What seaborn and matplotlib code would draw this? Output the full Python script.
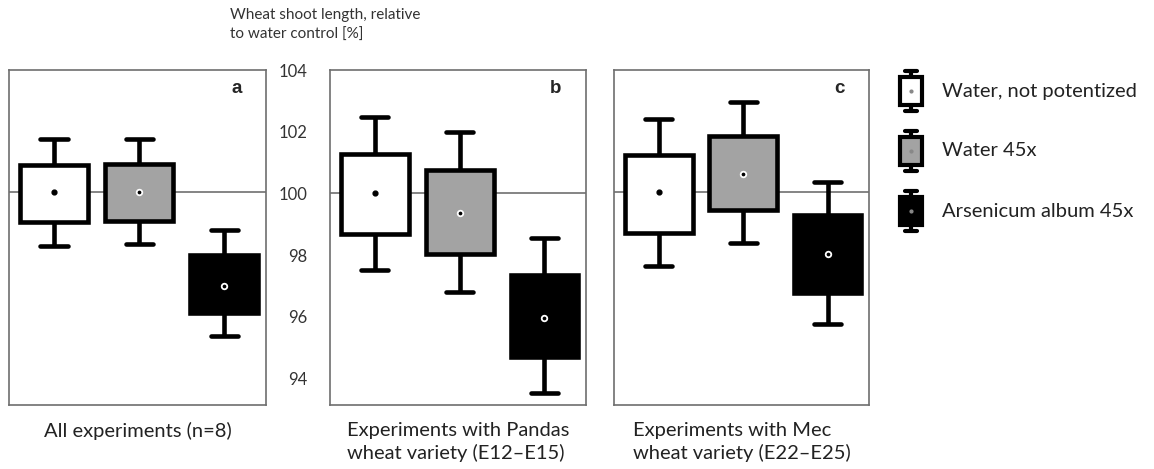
# Wheat shoot length relative to water control, three experiment groups
import numpy as np
import pandas as pd
import seaborn as sns
import matplotlib.pyplot as plt

groups = ["Water, not potentized", "Water 45x", "Arsenicum album 45x"]
colors = ["white", "#a3a3a3", "black"]

panel_letters = ["a", "b", "c"]
panel_labels = ["All experiments (n=8)",
                "Experiments with Pandas\nwheat variety (E12–E15)",
                "Experiments with Mec\nwheat variety (E22–E25)"]

# one row per panel, one value per group
means = [[100.0, 100.0, 96.99], [100.0, 99.35, 95.97], [100.0, 100.59, 98.01]]
box_lo = [[99.03, 99.08, 96.10], [98.67, 98.05, 94.68], [98.70, 99.43, 96.76]]
box_hi = [[100.88, 100.93, 97.98], [101.27, 100.75, 97.35], [101.21, 101.83, 99.27]]
whisk_lo = [[98.28, 98.32, 95.36], [97.53, 96.80, 93.52], [97.64, 98.38, 95.74]]
whisk_hi = [[101.71, 101.71, 98.78], [102.49, 101.99, 98.55], [102.37, 102.93, 100.34]]

# shape of the little legend icon (whisker, box, centre, box, whisker)
icon_shape = [0.0, 0.6, 2.0, 3.4, 4.0]

sns.set_style("white")
plt.rcParams["font.family"] = ["Lato", "DejaVu Sans"]

W, H = 1154, 469
fig = plt.figure(figsize=(W / 100, H / 100), dpi=100)

lefts = [9, 330, 614]
widths = [257, 256, 255]
top, bottom = 70, 405


def box_frame(k):
    rows = []
    for i, g in enumerate(groups):
        for v in (whisk_lo[k][i], box_lo[k][i], means[k][i], box_hi[k][i], whisk_hi[k][i]):
            rows.append({"group": g, "value": v})
    return pd.DataFrame(rows)


def shorten_caps(ax, factor):
    # seaborn draws caps at half the box width; the original ones are a bit shorter
    for ln in ax.lines:
        x, y = ln.get_xdata(), ln.get_ydata()
        if len(x) == 2 and y[0] == y[1] and x[0] != x[1]:
            c = (x[0] + x[1]) / 2
            ln.set_xdata([c + (x[0] - c) * factor, c + (x[1] - c) * factor])


for k in range(3):
    ax = fig.add_axes([lefts[k] / W, 1 - bottom / H, widths[k] / W, (bottom - top) / H])
    sns.boxplot(data=box_frame(k), x="group", y="value", hue="group",
                order=groups, hue_order=groups, palette=colors, saturation=1,
                whis=(0, 100), width=0.8, linewidth=3.3, linecolor="black",
                legend=False, ax=ax,
                medianprops={"visible": False},
                capprops={"solid_capstyle": "round"},
                whiskerprops={"solid_capstyle": "butt"})
    shorten_caps(ax, 0.8)
    ax.axhline(100, color="#707070", lw=1.2, zorder=0.5)
    pos = np.arange(len(groups))
    ax.scatter(pos[:1], means[k][:1], s=12, color="black", zorder=6)
    ax.scatter(pos[1:], means[k][1:], s=16, color="black", edgecolors="white",
               linewidths=1.3, zorder=6)

    ax.set_xlim(-0.53, 2.49)
    ax.set_ylim(93.14, 103.95)
    ax.set_xticks([])
    ax.set_ylabel("")
    ax.set_xlabel(panel_labels[k], fontsize=14.5, labelpad=12, linespacing=1.35,
                  multialignment="left", color="#222222")
    for s in ax.spines.values():
        s.set_color("#6e6e6e")
        s.set_linewidth(1.2)
    if k == 1:
        ax.set_yticks([94, 96, 98, 100, 102, 104])
        ax.tick_params(axis="y", length=0, pad=16, labelsize=12, labelcolor="#333333")
    else:
        ax.set_yticks([])
    ax.text(0.905, 0.97, panel_letters[k], transform=ax.transAxes, ha="right", va="top",
            fontsize=13.5, fontweight="bold", family="Liberation Sans")

fig.text(230 / W, 1 - 8 / H, "Wheat shoot length, relative\nto water control [%]",
         ha="left", va="top", fontsize=11, linespacing=1.5, color="#333333")

# legend: small boxplot icons plus labels
icon_y = [91, 151, 211]
for i, g in enumerate(groups):
    iax = fig.add_axes([896 / W, 1 - (icon_y[i] + 23) / H, 30 / W, 46 / H])
    sns.boxplot(y=icon_shape, color=colors[i], saturation=1, whis=(0, 100), width=0.73,
                linewidth=3, linecolor="black", ax=iax,
                medianprops={"visible": False},
                capprops={"solid_capstyle": "round"})
    shorten_caps(iax, 1.1)
    iax.scatter([0], [2.0], s=4, color="#888888", zorder=6)
    iax.set_xlim(-0.5, 0.5)
    iax.set_ylim(-0.3, 4.3)
    iax.axis("off")
    fig.text(942 / W, 1 - icon_y[i] / H, g, ha="left", va="center", fontsize=14.5,
             color="#222222")

fig.savefig("out.png", dpi=100)
